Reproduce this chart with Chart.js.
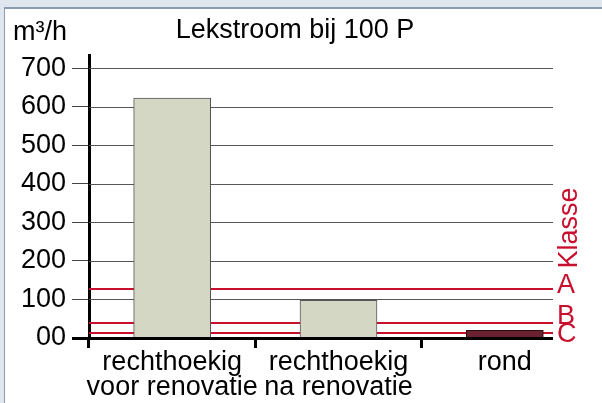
<!DOCTYPE html>
<html>
<head>
<meta charset="utf-8">
<title>Lekstroom bij 100 P</title>
<script src="https://cdn.jsdelivr.net/npm/chart.js@4.4.1/dist/chart.umd.min.js"></script>
<style>
  html, body { margin: 0; padding: 0; }
  body { width: 602px; height: 403px; background: #dfe6ee; position: relative; overflow: hidden; }
  .panel { position: absolute; left: 4px; top: 7px; right: 0; bottom: 0; background: #fff;
           border-top: 2px solid #8a9db0; border-left: 1px solid #8a9db0; }
  canvas { position: absolute; left: 0; top: 0; }
</style>
</head>
<body>
<div class="panel"></div>
<canvas id="chart" width="602" height="403"></canvas>
<script>
// data
const categories = [["rechthoekig", "voor renovatie"], ["rechthoekig", "na renovatie"], ["rond"]];
const leakValues = [622, 98, 20];
const yTickValues = [0, 100, 200, 300, 400, 500, 600, 700];
const yTickLabels = ["00", "100", "200", "300", "400", "500", "600", "700"];
const classNames = ["A", "B", "C"];
const classLimits = [127, 40, 12];
const titleText = "Lekstroom bij 100 P";
const unitText = "m\u00B3/h";
const classTitle = "Klasse";

const FONT = '"Liberation Sans", Arial, sans-serif';
const RED = "#c8102e";
const GRID_RIGHT = 553;
const TICK_START = 72;

const overlayPlugin = {
    id: "overlay",
    beforeDatasetsDraw(chart) {
        const { ctx, chartArea } = chart;
        const y = chart.scales.y;
        ctx.save();
        ctx.lineWidth = 1;
        ctx.strokeStyle = "#555";
        yTickValues.forEach((v) => {
            if (v === 0) return;
            const py = Math.round(y.getPixelForValue(v)) + 0.5;
            ctx.beginPath();
            ctx.moveTo(chartArea.left, py);
            ctx.lineTo(GRID_RIGHT, py);
            ctx.stroke();
        });
        ctx.lineWidth = 2;
        ctx.strokeStyle = RED;
        classLimits.forEach((v) => {
            const py = Math.round(y.getPixelForValue(v));
            ctx.beginPath();
            ctx.moveTo(chartArea.left, py);
            ctx.lineTo(GRID_RIGHT, py);
            ctx.stroke();
        });
        ctx.restore();
    },
    afterDatasetsDraw(chart) {
        const { ctx } = chart;
        const py = Math.round(chart.scales.y.getPixelForValue(0)) + 0.5;
        ctx.save();
        ctx.lineWidth = 3;
        ctx.strokeStyle = "#000";
        ctx.beginPath();
        ctx.moveTo(TICK_START, py);
        ctx.lineTo(GRID_RIGHT, py);
        ctx.stroke();
        ctx.restore();
    },
    afterDraw(chart) {
        const { ctx } = chart;
        const y = chart.scales.y;
        ctx.save();
        ctx.font = "27px " + FONT;
        ctx.fillStyle = "#000";
        ctx.textBaseline = "alphabetic";
        ctx.textAlign = "center";
        ctx.fillText(titleText, 295, 38);
        ctx.textAlign = "left";
        ctx.fillText(unitText, 13, 40);

        // class labels next to the red lines
        const labelDy = [4, 1, 9];
        ctx.fillStyle = RED;
        classNames.forEach((name, i) => {
            ctx.fillText(name, GRID_RIGHT + 4, y.getPixelForValue(classLimits[i]) + labelDy[i]);
        });
        ctx.translate(577, 228);
        ctx.rotate(-Math.PI / 2);
        ctx.textAlign = "center";
        ctx.fillText(classTitle, 0, 0);
        ctx.restore();
    },
};

new Chart(document.getElementById("chart"), {
    type: "bar",
    data: {
        labels: categories,
        datasets: [
            {
                data: leakValues,
                backgroundColor: ["#d4d7c4", "#d4d7c4", "#6a2132"],
                borderColor: ["#555", "#555", "#2a0c12"],
                borderWidth: 1,
                borderSkipped: "bottom",
                barThickness: 77,
            },
        ],
    },
    options: {
        responsive: false,
        animation: false,
        layout: { padding: { top: 55, right: 14, bottom: 0, left: 0 } },
        plugins: {
            legend: { display: false },
            tooltip: { enabled: false },
        },
        scales: {
            x: {
                offset: true,
                afterFit: (scale) => { scale.height = 65; },
                border: { display: false },
                grid: {
                    offset: true,
                    drawOnChartArea: false,
                    drawTicks: true,
                    tickLength: 10,
                    lineWidth: 3,
                    color: (c) => (c.type === "tick" ? "#000" : "rgba(0,0,0,0)"),
                },
                ticks: {
                    autoSkip: false,
                    maxRotation: 0,
                    minRotation: 0,
                    padding: 2,
                    color: "#000",
                    font: { family: FONT, size: 27, lineHeight: 0.93 },
                },
            },
            y: {
                min: 0,
                max: 734,
                afterFit: (scale) => { scale.width = 89; },
                afterBuildTicks: (scale) => {
                    scale.ticks = yTickValues.map((v) => ({ value: v }));
                },
                border: { display: true, width: 3, color: "#000" },
                grid: {
                    drawOnChartArea: false,
                    drawTicks: true,
                    tickLength: 17,
                    color: "#444",
                    lineWidth: 1,
                },
                ticks: {
                    padding: 6,
                    color: "#000",
                    font: { family: FONT, size: 27 },
                    callback: (value, index) => yTickLabels[index],
                },
            },
        },
    },
    plugins: [overlayPlugin],
});
</script>
</body>
</html>
